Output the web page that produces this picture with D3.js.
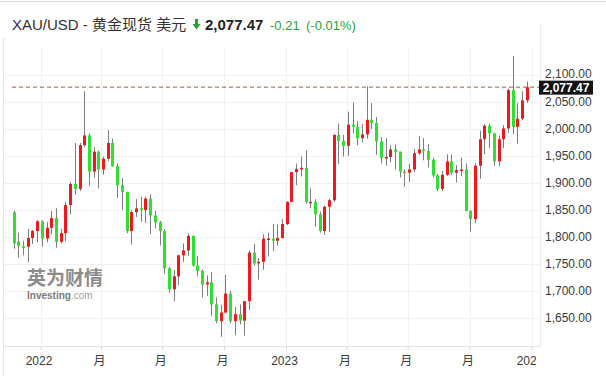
<!DOCTYPE html>
<html><head><meta charset="utf-8">
<script src="https://cdn.jsdelivr.net/npm/d3@7"></script>
<style>
html,body{margin:0;padding:0;background:#fff;}
svg{display:block;font-family:"Liberation Sans",Arial,"Noto Sans CJK SC",sans-serif;}
</style></head>
<body><svg id="c" width="606" height="384"></svg>
<script>
// ---- data: weekly XAU/USD candles ----
const weeks = [
"2021-11-22","2021-11-29","2021-12-06","2021-12-13","2021-12-20","2021-12-27",
"2022-01-03","2022-01-10","2022-01-17","2022-01-24","2022-01-31","2022-02-07","2022-02-14","2022-02-21","2022-02-28",
"2022-03-07","2022-03-14","2022-03-21","2022-03-28","2022-04-04","2022-04-11","2022-04-18","2022-04-25",
"2022-05-02","2022-05-09","2022-05-16","2022-05-23","2022-05-30","2022-06-06","2022-06-13","2022-06-20","2022-06-27",
"2022-07-04","2022-07-11","2022-07-18","2022-07-25","2022-08-01","2022-08-08","2022-08-15","2022-08-22","2022-08-29",
"2022-09-05","2022-09-12","2022-09-19","2022-09-26","2022-10-03","2022-10-10","2022-10-17","2022-10-24","2022-10-31",
"2022-11-07","2022-11-14","2022-11-21","2022-11-28","2022-12-05","2022-12-12","2022-12-19","2022-12-26",
"2023-01-02","2023-01-09","2023-01-16","2023-01-23","2023-01-30","2023-02-06","2023-02-13","2023-02-20","2023-02-27",
"2023-03-06","2023-03-13","2023-03-20","2023-03-27","2023-04-03","2023-04-10","2023-04-17","2023-04-24",
"2023-05-01","2023-05-08","2023-05-15","2023-05-22","2023-05-29","2023-06-05","2023-06-12","2023-06-19","2023-06-26",
"2023-07-03","2023-07-10","2023-07-17","2023-07-24","2023-07-31","2023-08-07","2023-08-14","2023-08-21","2023-08-28",
"2023-09-04","2023-09-11","2023-09-18","2023-09-25","2023-10-02","2023-10-09","2023-10-16","2023-10-23","2023-10-30",
"2023-11-06","2023-11-13","2023-11-20","2023-11-27","2023-12-04","2023-12-11","2023-12-18","2023-12-25"];
const open = [1846,1792,1783,1782,1798,1811,
1829,1797,1817,1835,1791,1807,1859,1898,1889,
1970,1988,1921,1958,1925,1945,1974,1931,
1896,1883,1811,1846,1853,1850,1871,1840,1827,
1811,1742,1703,1727,1766,1775,1802,1747,1737,
1712,1716,1675,1644,1660,1695,1644,1657,1645,
1681,1771,1751,1754,1797,1797,1793,1798,
1824,1865,1920,1926,1928,1865,1865,1842,1811,
1856,1868,1989,1978,1969,2008,2004,1983,
1990,2017,2011,1977,1946,1948,1962,1958,1921,
1919,1925,1955,1962,1959,1943,1914,1889,1915,
1940,1919,1924,1925,1848,1833,1932,1981,2006,
1992,1940,1981,2001,2072,2004,2019,2053];
const high = [1849,1808,1793,1815,1813,1831,
1831,1828,1848,1853,1815,1865,1902,1974,1974,
2070,1992,1966,1960,1949,1998,1982,1936,
1909,1884,1849,1870,1874,1875,1879,1848,1830,
1814,1745,1739,1767,1788,1807,1803,1765,1740,
1729,1735,1688,1674,1730,1700,1670,1675,1681,
1775,1787,1761,1805,1808,1824,1823,1833,
1866,1920,1936,1949,1960,1890,1870,1847,1858,
1871,1990,2010,1989,2032,2049,2015,2009,
2079,2048,2022,1985,1983,1970,1971,1958,1925,
1935,1963,1987,1983,1972,1947,1917,1922,1953,
1953,1933,1947,1936,1850,1937,1997,2009,2010,
1993,1988,2007,2075,2135,2048,2070,2088];
const low = [1778,1762,1766,1753,1787,1790,
1782,1790,1805,1780,1788,1792,1842,1878,1885,
1967,1895,1910,1890,1915,1940,1930,1872,
1850,1807,1786,1837,1828,1826,1805,1816,1784,
1732,1697,1681,1711,1754,1765,1745,1727,1688,
1691,1654,1640,1615,1659,1640,1618,1638,1617,
1665,1747,1721,1739,1764,1774,1784,1797,
1822,1866,1896,1912,1861,1853,1819,1808,1804,
1810,1865,1935,1949,1950,1992,1970,1975,
1982,2000,1952,1936,1932,1938,1925,1910,1893,
1902,1920,1952,1942,1929,1910,1885,1885,1913,
1915,1901,1913,1857,1810,1826,1908,1953,1965,
1932,1931,1965,1993,1990,1973,2016,2048];
const close = [1788,1783,1782,1798,1811,1829,
1797,1817,1835,1791,1807,1859,1898,1889,1970,
1988,1921,1958,1925,1945,1974,1931,1896,
1883,1811,1846,1853,1850,1871,1840,1827,1811,
1742,1703,1727,1766,1775,1802,1747,1737,1712,
1716,1675,1644,1660,1695,1644,1657,1645,1681,
1771,1751,1754,1797,1797,1793,1798,1824,
1865,1920,1926,1928,1865,1865,1842,1811,1856,
1868,1989,1978,1969,2008,2004,1983,1990,
2017,2011,1977,1946,1948,1962,1958,1921,1919,
1925,1955,1962,1959,1943,1914,1889,1915,1940,
1919,1924,1925,1848,1833,1932,1981,2006,1992,
1940,1981,2001,2072,2004,2019,2053,2077.47];
const lastPrice = 2077.47;
const yTicks = [1650,1700,1750,1800,1850,1900,1950,2000,2050,2100];
const xTickDates = ["2022-01-01","2022-04-01","2022-07-01","2022-10-01","2023-01-01","2023-04-01","2023-07-01","2023-10-01","2024-01-01"];
const xTickLabels = ["2022","月","月","月","2023","月","月","月","2024"];

// ---- layout ----
const W=606,H=384, L=3, R=540, T=48, B=346;
const svg=d3.select("#c");
svg.append("rect").attr("width",W).attr("height",H).attr("fill","#fff");
const parse=d3.utcParse("%Y-%m-%d");
const x=d3.scaleUtc().domain([parse("2022-01-01"),parse("2024-01-01")]).range([40.5,531.5]);
const y=d3.scaleLinear().domain([1598,2150]).range([B,T]);

// frame lines
svg.append("line").attr("x1",0).attr("x2",W).attr("y1",1.5).attr("y2",1.5).attr("stroke","#d8d8d8");
svg.append("line").attr("x1",L+0.5).attr("x2",L+0.5).attr("y1",38).attr("y2",376).attr("stroke","#e2e2e2");

// grid
const g=svg.append("g");
g.selectAll(".hg").data(yTicks).join("line")
 .attr("x1",L).attr("x2",R).attr("y1",d=>Math.round(y(d))+0.5).attr("y2",d=>Math.round(y(d))+0.5)
 .attr("stroke","#f1f1f1");
g.selectAll(".vg").data(xTickDates).join("line")
 .attr("x1",d=>Math.round(x(parse(d)))+0.5).attr("x2",d=>Math.round(x(parse(d)))+0.5)
 .attr("y1",T).attr("y2",B).attr("stroke","#f1f1f1");
svg.append("line").attr("x1",L).attr("x2",R).attr("y1",B+0.5).attr("y2",B+0.5).attr("stroke","#e4e4e4");
svg.append("line").attr("x1",R+0.5).attr("x2",R+0.5).attr("y1",T-24).attr("y2",B).attr("stroke","#ececec");

// watermark
svg.append("text").attr("x",27).attr("y",285).text("英为财情")
 .attr("font-size",19).attr("font-weight","bold").attr("fill","#8c8c8c")
 .attr("font-family","'Noto Sans CJK SC',sans-serif");
const wm=svg.append("text").attr("x",27).attr("y",299).attr("font-size",10).attr("fill","#7a7a7a");
wm.append("tspan").text("Investing").attr("font-weight","bold");
wm.append("tspan").text(".com").attr("fill","#a0a0a0");

// candles
const data=weeks.map((w,i)=>({d:parse(w),o:open[i],h:high[i],l:low[i],c:close[i]}));
const cg=svg.append("g");
cg.selectAll(".wick").data(data).join("line")
 .attr("x1",d=>Math.round(x(d.d))+0.5).attr("x2",d=>Math.round(x(d.d))+0.5)
 .attr("y1",d=>y(d.h)).attr("y2",d=>y(d.l)).attr("stroke","#7d7d7d").attr("stroke-width",1);
cg.selectAll(".body").data(data).join("rect")
 .attr("x",d=>Math.round(x(d.d))-1).attr("width",3)
 .attr("y",d=>y(Math.max(d.o,d.c)))
 .attr("height",d=>Math.max(1.5,Math.abs(y(d.o)-y(d.c))))
 .attr("fill",d=>d.c>=d.o?"#f01818":"#2fe02f");

// last price dashed line
svg.append("line").attr("x1",12).attr("x2",R).attr("y1",y(lastPrice)).attr("y2",y(lastPrice))
 .attr("stroke","#a8584e").attr("stroke-width",1).attr("stroke-dasharray","4,3");

// y axis
const ya=svg.append("g").attr("transform",`translate(${R},0)`)
 .call(d3.axisRight(y).tickValues(yTicks).tickSize(0).tickPadding(5).tickFormat(d3.format(",.2f")));
ya.select(".domain").remove();
ya.selectAll("text").attr("font-size",12).attr("fill","#3a3a3a").attr("font-family","'Liberation Sans',Arial,sans-serif");
ya.selectAll(".tick").filter(d=>d===2100).select("text").attr("dy","0.2em");

// price box
const py=y(lastPrice);
svg.append("rect").attr("x",R-1).attr("y",py-6.5).attr("width",54).attr("height",14).attr("fill","#141414");
svg.append("text").attr("x",R+26).attr("y",py+4.5).attr("text-anchor","middle")
 .attr("font-size",12).attr("font-weight","bold").attr("fill","#fff").text(d3.format(",.2f")(lastPrice));

// x axis
svg.append("clipPath").attr("id","xclip").append("rect").attr("x",0).attr("y",B).attr("width",R-4).attr("height",40);
const xwrap=svg.append("g").attr("clip-path","url(#xclip)");
const xa=xwrap.append("g").attr("transform",`translate(0,${B})`)
 .call(d3.axisBottom(x).tickValues(xTickDates.map(parse)).tickSize(4).tickPadding(6)
   .tickFormat((d,i)=>xTickLabels[i]));
xa.select(".domain").remove();
xa.selectAll(".tick line").attr("stroke","#d8d8d8");
xa.selectAll("text").attr("font-size",12).attr("fill","#3a3a3a").attr("dx",-2)
 .attr("font-family","'Liberation Sans',Arial,'Noto Sans CJK SC',sans-serif");

// title
svg.append("text").attr("x",12).attr("y",30).attr("font-size",15).attr("fill","#333").text("XAU/USD - 黄金现货 美元");
svg.append("path").attr("d","M195,19 h3 v5 h2.5 l-4,5.5 l-4,-5.5 h2.5 z").attr("fill","#2c9f34");
svg.append("text").attr("x",205).attr("y",30).attr("font-size",15).attr("font-weight","bold").attr("fill","#222").text("2,077.47");
svg.append("text").attr("x",270).attr("y",30).attr("font-size",13).attr("fill","#2c9f34").text("-0.21");
svg.append("text").attr("x",306).attr("y",30).attr("font-size",13).attr("fill","#2c9f34").text("(-0.01%)");
</script></body></html>
